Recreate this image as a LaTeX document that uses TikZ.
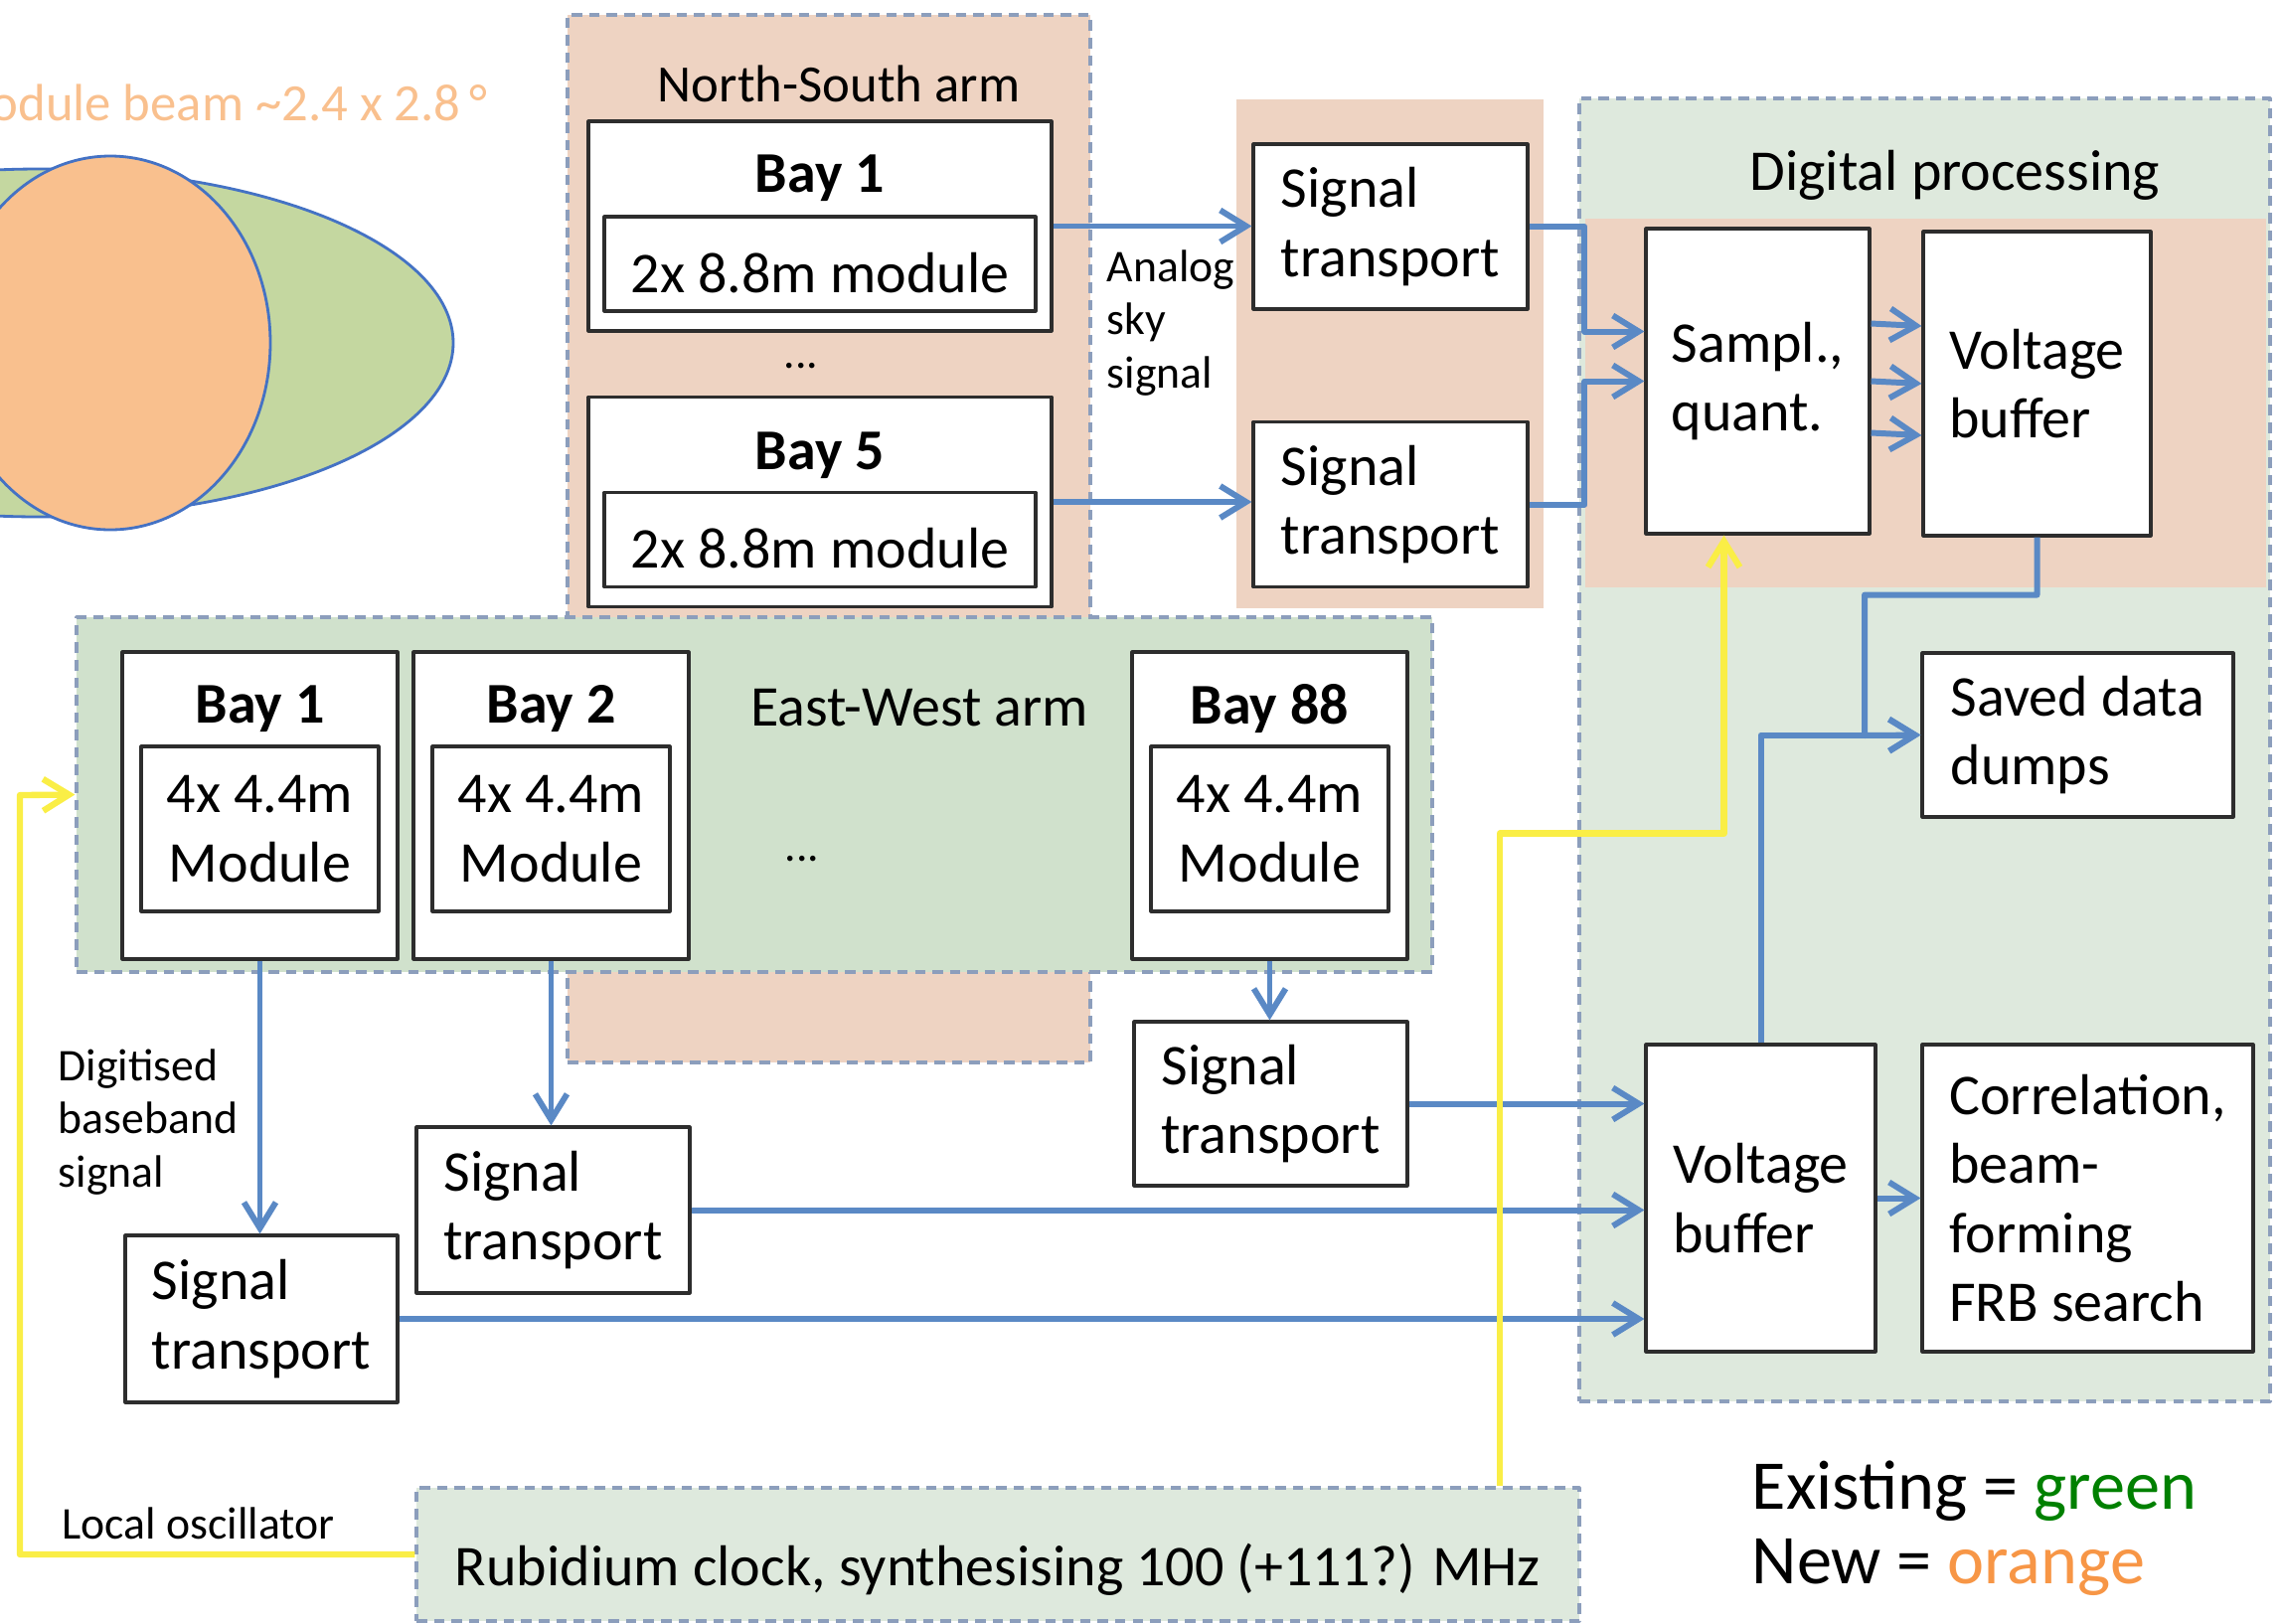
\documentclass[tikz,border=0pt]{standalone}
\usepackage{fontspec}
\setmainfont{Carlito}
\usetikzlibrary{arrows.meta,positioning,calc}
\definecolor{nsorange}{RGB}{238,211,194}
\definecolor{ewgreen}{RGB}{208,225,204}
\definecolor{dpgreen}{RGB}{222,233,221}
\definecolor{dashblue}{RGB}{140,158,188}
\definecolor{sigblue}{RGB}{90,137,197}
\definecolor{loyellow}{RGB}{250,238,70}
\definecolor{beamgreen}{RGB}{196,215,160}
\definecolor{beamorange}{RGB}{249,192,142}
\definecolor{beamline}{RGB}{68,114,196}
\definecolor{legorange}{RGB}{247,150,70}
\definecolor{leggreen}{RGB}{0,128,0}
\definecolor{boxline}{RGB}{45,45,45}

\begin{document}
\begin{tikzpicture}[line join=round,>={Straight Barb[length=2.6mm,width=3.2mm]}]
	\tikzset{region/.style={draw=dashblue,line width=0.9pt,dash pattern=on 3pt off 2pt,inner sep=0pt},
		patch/.style={fill=nsorange,inner sep=0pt},
		box/.style={draw=boxline,fill=white,line width=0.9pt,inner sep=0pt,align=left,font=\fontsize{16.5}{19.8}\selectfont,
			execute at begin node={\rule{0pt}{16.5pt}}},
		modbox/.style={box,align=center},
		baylbl/.style={inner sep=0pt,font=\bfseries\fontsize{16.5}{19.8}\selectfont},
		title/.style={inner sep=0pt,font=\fontsize{16.5}{19.8}\selectfont},
		lbl/.style={inner sep=0pt,align=left,font=\fontsize{13}{15.2}\selectfont},
		legend/.style={anchor=base west,inner sep=0pt,font=\fontsize{20}{24}\selectfont},
		sig/.style={draw=sigblue,line width=1.7pt,->},
		lo/.style={draw=loyellow,line width=1.8pt,->}}
	\useasboundingbox (0,0) rectangle (22.97,-16.33);
	% beam sizes
	\begin{scope}
		\clip (0,0) rectangle (22.97,-16.33);
		\draw[beamline,fill=beamgreen,line width=0.8pt] (0.40,-3.45) ellipse (4.16 and 1.75);
		\draw[beamline,fill=beamorange,line width=0.8pt] (1.11,-3.45) ellipse (1.61 and 1.88);
		\node[anchor=base east,inner sep=0pt,text=beamorange,font=\fontsize{15}{18}\selectfont] (beamtxt) at (4.91,-1.21) {Module beam \textasciitilde2.4 x 2.8\,°};
	\end{scope}
	% shaded areas
	\node[region,fill=nsorange,minimum width=5.26cm,minimum height=10.54cm] (nsarm) at (8.34,-5.42) {};
	\node[patch,minimum width=3.09cm,minimum height=5.12cm] (stpatch) at (13.985,-3.56) {};
	\node[region,fill=dpgreen,minimum width=6.95cm,minimum height=13.11cm] (digproc) at (19.365,-7.545) {};
	\node[patch,minimum width=6.85cm,minimum height=3.71cm] (dppatch) at (19.375,-4.055) {};
	\node[region,fill=ewgreen,minimum width=13.64cm,minimum height=3.57cm] (ewarm) at (7.59,-7.995) {};
	\node[region,fill=dpgreen,minimum width=11.70cm,minimum height=1.34cm,font=\fontsize{16.5}{19.8}\selectfont,
		execute at begin node={\rule{0pt}{21pt}}] (clock) at (10.04,-15.64) {Rubidium clock, synthesising 100 (+111?) MHz};
	\node[title,font=\fontsize{15}{18}\selectfont] (nstitle) at (8.44,-0.84) {North-South arm};
	\node[title] (dptitle) at (19.67,-1.76) {Digital processing};
	\node[title] (ewtitle) at (9.25,-7.12) {East-West arm};
	% north-south bays
	\node[box,minimum width=4.66cm,minimum height=2.11cm] (nsbay1) at (8.25,-2.275) {};
	\node[modbox,minimum width=4.34cm,minimum height=0.95cm,above=0.2cm of nsbay1.south] (nsmod1) {2x 8.8m module};
	\node[baylbl] (nslbl1) at ([yshift=-5.9mm]nsbay1.north) {Bay 1};
	\node[lbl] (nsdots) at (8.06,-3.68) {...};
	\node[box,minimum width=4.66cm,minimum height=2.11cm] (nsbay5) at (8.25,-5.05) {};
	\node[modbox,minimum width=4.34cm,minimum height=0.95cm,above=0.2cm of nsbay5.south] (nsmod5) {2x 8.8m module};
	\node[baylbl] (nslbl5) at ([yshift=-6.0mm]nsbay5.north) {Bay 5};
	\node[box,minimum width=2.76cm,minimum height=1.66cm] (st1) at (13.99,-2.28) {Signal\\transport};
	\node[box,minimum width=2.76cm,minimum height=1.66cm] (st2) at (13.99,-5.075) {Signal\\transport};
	\node[lbl,anchor=west] (analog) at (11.13,-3.25) {Analog\\sky\\signal};
	% digital processing
	\node[box,minimum width=2.25cm,minimum height=3.07cm] (sampl) at (17.685,-3.835) {Sampl.,\\quant.};
	\node[box,minimum width=2.29cm,minimum height=3.06cm] (vbtop) at (20.495,-3.86) {Voltage\\buffer};
	\node[box,minimum width=3.13cm,minimum height=1.65cm] (saved) at (20.905,-7.395) {Saved data\\dumps};
	\node[box,minimum width=2.31cm,minimum height=3.09cm] (vbbot) at (17.715,-12.055) {Voltage\\buffer};
	\node[box,minimum width=3.33cm,minimum height=3.09cm] (corr) at (21.005,-12.055) {Correlation,\\beam-\\forming\\FRB search};
	% east-west bays
	\foreach \n/\x/\b in {1/2.615/1,2/5.545/2,88/12.775/88}{
		\node[box,minimum width=2.77cm,minimum height=3.09cm] (ewbay\n) at (\x,-8.105) {};
		\node[modbox,minimum width=2.39cm,minimum height=1.66cm,above=0.48cm of ewbay\n.south] (ewmod\n) {4x 4.4m\\Module};
		\node[baylbl] (ewlbl\n) at ([yshift=-5.9mm]ewbay\n.north) {Bay \b};
	}
	\node[lbl] (ewdots) at (8.07,-8.64) {...};
	\node[box,minimum width=2.75cm,minimum height=1.65cm] (st88) at (12.785,-11.105) {Signal\\transport};
	\node[box,minimum width=2.75cm,minimum height=1.67cm] (ewst2) at (5.565,-12.175) {Signal\\transport};
	\node[box,minimum width=2.74cm,minimum height=1.68cm] (ewst1) at (2.63,-13.27) {Signal\\transport};
	\node[lbl,anchor=west] (digitised) at (0.58,-11.29) {Digitised\\baseband\\signal};
	\node[lbl,anchor=west] (localosc) at (0.62,-15.33) {Local oscillator};
	% legend
	\node[legend] (legexist) at (17.62,-15.18) {Existing = \textcolor{leggreen}{green}};
	\node[legend] (legnew) at (17.62,-15.93) {New = \textcolor{legorange}{orange}};
	% signal paths
	\draw[sig] (nsbay1.east) -- (nsbay1.east -| st1.west);
	\draw[sig] (nsbay5.east) -- (nsbay5.east -| st2.west);
	\draw[sig] (st1.east) -| ([xshift=-6mm,yshift=5mm]sampl.west) -- ([yshift=5mm]sampl.west);
	\draw[sig] (st2.east) -| ([xshift=-6mm]sampl.west) -- (sampl.west);
	\foreach \dy in {5.8,0,-5.2}
	\draw[sig] ([yshift=\dy mm]sampl.east) -- ([yshift=\dy mm]vbtop.west);
	\coordinate (dumpbus) at (18.76,-7.40);
	\draw[sig] (vbtop.south) -- ++(0,-0.58) -| (dumpbus) -- (saved.west);
	\draw[sig] (vbbot.north) |- (saved.west);
	\draw[sig] (ewbay1.south) -- (ewbay1.south |- ewst1.north);
	\draw[sig] (ewbay2.south) -- (ewbay2.south |- ewst2.north);
	\draw[sig] (ewbay88.south) -- (ewbay88.south |- st88.north);
	\draw[sig] (st88.east) -- (st88.east -| vbbot.west);
	\draw[sig] (ewst2.east) -- (ewst2.east -| vbbot.west);
	\draw[sig] (ewst1.east) -- (ewst1.east -| vbbot.west);
	\draw[sig] (vbbot.east) -- (corr.west);
	% local oscillator
	\coordinate (lobend) at (0.20,-8.00);
	\coordinate (clkx) at (15.09,0);
	\draw[lo] (clock.west) -| (lobend) -- (ewarm.west);
	\draw[lo] (clock.north -| clkx) |- ($(sampl.south)+(-0.34,-3.0)$) -- ($(sampl.south)+(-0.34,0)$);
\end{tikzpicture}
\end{document}
